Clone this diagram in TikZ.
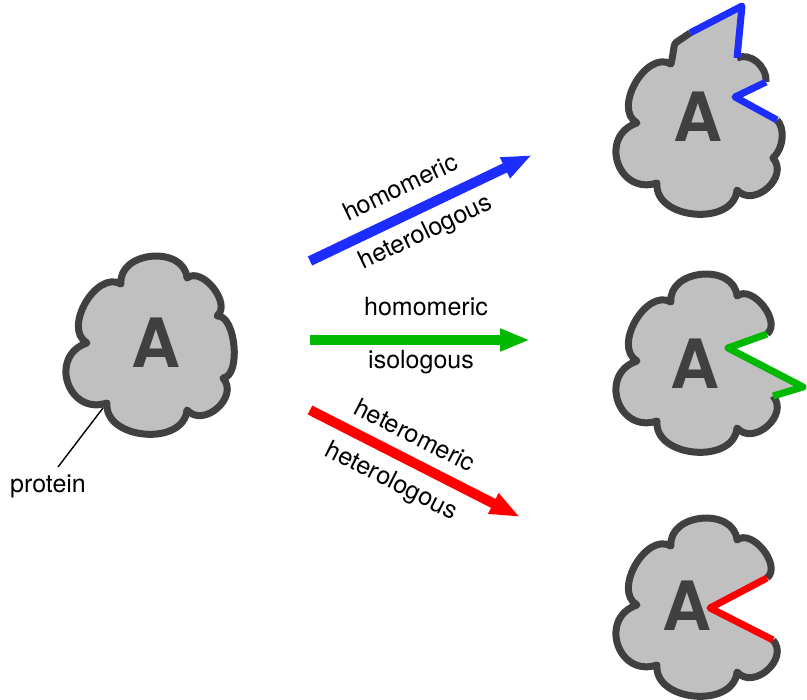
\documentclass[tikz,border=0pt]{standalone}
\usepackage{fontspec}
\setmainfont{TeX Gyre Heros}
\usetikzlibrary{calc,arrows.meta}

\definecolor{cblue}{RGB}{30,45,255}
\definecolor{cgreen}{RGB}{0,185,0}
\definecolor{cred}{RGB}{255,0,0}
\definecolor{cfill}{RGB}{192,192,192}
\definecolor{cline}{RGB}{64,64,64}

% one outward bulge of the cloud outline from #1 to #2, handle factor #3
\newcommand{\bmp}[3]{.. controls ($(#1)!#3!90:(#2)$) and ($(#2)!#3!-90:(#1)$) .. (#2)}

% the seven valley points of a cloud centred at (#2,#3)
\newcommand{\cloudpts}[3]{%
  \path[shift={(#2,#3)}]
    (-29,-61) coordinate (#1-1)
    (37,-67)  coordinate (#1-2)
    (67,-29)  coordinate (#1-3)
    (73,33)   coordinate (#1-4)
    (37,65)   coordinate (#1-5)
    (-43,58)  coordinate (#1-6)
    (-63,-2)  coordinate (#1-7);}

\tikzset{
  cloudfill/.style={fill=cfill},
  cloudline/.style={draw=cline, line width=7pt, line join=round},
  bindsite/.style={line width=7pt, line join=round},
  flow/.style={line width=10pt, -{Triangle[length=30pt,width=21pt]}},
  lbl/.style={font=\fontsize{25}{29}\selectfont, inner sep=0pt},
  letter/.style={font=\fontsize{68}{80}\selectfont\bfseries, text=cline, inner sep=0pt}
}

\begin{document}
\begin{tikzpicture}[x=1pt,y=-1pt]
\useasboundingbox (0,0) rectangle (807,700);

% ---------- single protein ----------
\cloudpts{L}{150}{345}
\fill[cloudfill] (L-1) \bmp{L-1}{L-2}{0.5} \bmp{L-2}{L-3}{0.4} \bmp{L-3}{L-4}{0.3}
  \bmp{L-4}{L-5}{0.52} \bmp{L-5}{L-6}{0.46} \bmp{L-6}{L-7}{0.65} \bmp{L-7}{L-1}{0.42} -- cycle;
\draw[cloudline] (L-1) \bmp{L-1}{L-2}{0.5} \bmp{L-2}{L-3}{0.4} \bmp{L-3}{L-4}{0.3}
  \bmp{L-4}{L-5}{0.52} \bmp{L-5}{L-6}{0.46} \bmp{L-6}{L-7}{0.65} \bmp{L-7}{L-1}{0.42} -- cycle;
\node[letter] (aL) at (156,343) {A};

\coordinate (ptip) at (103,408);
\node[lbl] (prot) at (48,486) {protein};
\draw[line width=1.4pt] (ptip) -- (58,467);

% ---------- homomeric heterologous (top) ----------
\cloudpts{T}{700}{125}
\coordinate (T-a) at (690,33);
\coordinate (T-b) at (742,6);
\coordinate (T-d) at (766,82);
\coordinate (T-e) at (735,97);
\coordinate (T-f) at (777,120);
\fill[cloudfill] (T-1) .. controls (669,48) and (677,37) .. (T-a) -- (T-b) -- (T-2)
  .. controls (750,52) and (767,66) .. (T-d) -- (T-e) -- (T-f)
  .. controls (785,128) and (784,148) .. (T-4)
  \bmp{T-4}{T-5}{0.52} \bmp{T-5}{T-6}{0.46} \bmp{T-6}{T-7}{0.65} \bmp{T-7}{T-1}{0.42} -- cycle;
\draw[cloudline] (T-2) .. controls (750,52) and (767,66) .. (T-d);
\draw[cloudline] (T-f) .. controls (785,128) and (784,148) .. (T-4)
  \bmp{T-4}{T-5}{0.52} \bmp{T-5}{T-6}{0.46} \bmp{T-6}{T-7}{0.65} \bmp{T-7}{T-1}{0.42}
  .. controls (677,37) and (669,48) .. (T-a);
\draw[bindsite, cblue] (T-a) -- (T-b) -- (T-2);
\draw[bindsite, cblue] (T-d) -- (T-e) -- (T-f);
\node[letter] (aT) at (698,117) {A};

% ---------- homomeric isologous (middle) ----------
\cloudpts{M}{700}{363}
\coordinate (M-n) at (728,348);
\coordinate (M-t) at (803,387);
\fill[cloudfill] (M-4) \bmp{M-4}{M-5}{0.52} \bmp{M-5}{M-6}{0.46} \bmp{M-6}{M-7}{0.65}
  \bmp{M-7}{M-1}{0.42} \bmp{M-1}{M-2}{0.5} \bmp{M-2}{M-3}{0.4} -- (M-n) -- (M-t) -- cycle;
\draw[cloudline] (M-4) \bmp{M-4}{M-5}{0.52} \bmp{M-5}{M-6}{0.46} \bmp{M-6}{M-7}{0.65}
  \bmp{M-7}{M-1}{0.42} \bmp{M-1}{M-2}{0.5} \bmp{M-2}{M-3}{0.4};
\draw[bindsite, cgreen] (M-3) -- (M-n) -- (M-t) -- (M-4);
\node[letter] (aM) at (695,364) {A};

% ---------- heteromeric heterologous (bottom) ----------
\cloudpts{B}{700}{607}
\coordinate (B-n) at (710,608);
\fill[cloudfill] (B-4) \bmp{B-4}{B-5}{0.52} \bmp{B-5}{B-6}{0.46} \bmp{B-6}{B-7}{0.65}
  \bmp{B-7}{B-1}{0.42} \bmp{B-1}{B-2}{0.5} \bmp{B-2}{B-3}{0.4} -- (B-n) -- cycle;
\draw[cloudline] (B-4) \bmp{B-4}{B-5}{0.52} \bmp{B-5}{B-6}{0.46} \bmp{B-6}{B-7}{0.65}
  \bmp{B-7}{B-1}{0.42} \bmp{B-1}{B-2}{0.5} \bmp{B-2}{B-3}{0.4};
\draw[bindsite, cred] (B-3) -- (B-n) -- (B-4);
\node[letter] (aB) at (687,606) {A};

% ---------- reaction arrows ----------
\coordinate (b0) at (310,261);
\coordinate (b1) at (532,155);
\draw[flow, cblue] (b0) -- (b1);
\node[lbl, rotate=25.6] (hb1) at (400,187) {homomeric};
\node[lbl, rotate=25.6] (hb2) at (426,233) {heterologous};

\coordinate (g0) at (310,340);
\coordinate (g1) at (530,340);
\draw[flow, cgreen] (g0) -- (g1);
\node[lbl] (hg1) at (426,307) {homomeric};
\node[lbl] (hg2) at (421,362) {isologous};

\coordinate (r0) at (310,410);
\coordinate (r1) at (520,517);
\draw[flow, cred] (r0) -- (r1);
\node[lbl, rotate=-26.8] (hr1) at (415,435) {heteromeric};
\node[lbl, rotate=-26.8] (hr2) at (391,482) {heterologous};
\end{tikzpicture}
\end{document}
